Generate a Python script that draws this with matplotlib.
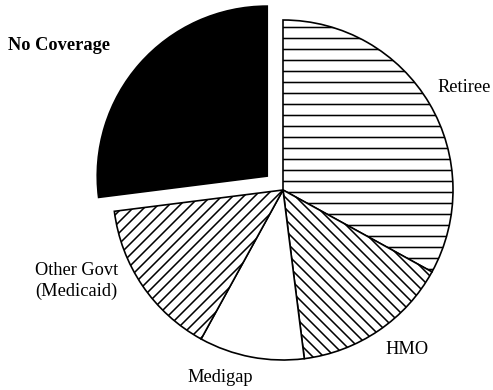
import matplotlib
matplotlib.use("Agg")
import matplotlib.pyplot as plt

# Health coverage shares (percent), clockwise from 12 o'clock
categories = ["Retiree", "HMO", "Medigap", "Other Govt\n(Medicaid)", "No Coverage"]
shares = [33, 15, 10, 15, 27]
hatches = ["-", "\\\\", "", "//", ""]
faces = ["white", "white", "white", "white", "black"]
explode = [0, 0, 0, 0, 21]

DPI = 66
W, H = 493, 390
plt.rcParams["hatch.linewidth"] = 1.7
plt.rcParams["font.family"] = ["Liberation Serif", "DejaVu Serif"]

fig = plt.figure(figsize=(W / DPI, H / DPI), dpi=DPI)
ax = fig.add_axes([0, 0, 1, 1])

wedges, _ = ax.pie(shares, startangle=90, counterclock=False,
                   center=(283, H - 190), radius=170, explode=explode,
                   colors=faces, frame=True,
                   wedgeprops=dict(edgecolor="black", linewidth=1.8))
for w, h in zip(wedges, hatches):
    w.set_hatch(h)
ax.set_xlim(0, W)
ax.set_ylim(0, H)
ax.set_aspect("equal")
ax.axis("off")

fs = 20
ax.text(8, H - 45, "No Coverage", fontsize=fs, fontweight="bold", ha="left", va="center")
ax.text(437, H - 88, "Retiree", fontsize=fs, ha="left", va="center")
ax.text(385, H - 350, "HMO", fontsize=fs, ha="left", va="center")
ax.text(187, H - 377, "Medigap", fontsize=fs, ha="left", va="center")
ax.text(35, H - 281, "Other Govt\n(Medicaid)", fontsize=fs, ha="left", va="center",
        linespacing=1.25)

fig.savefig("out.png", dpi=DPI)
